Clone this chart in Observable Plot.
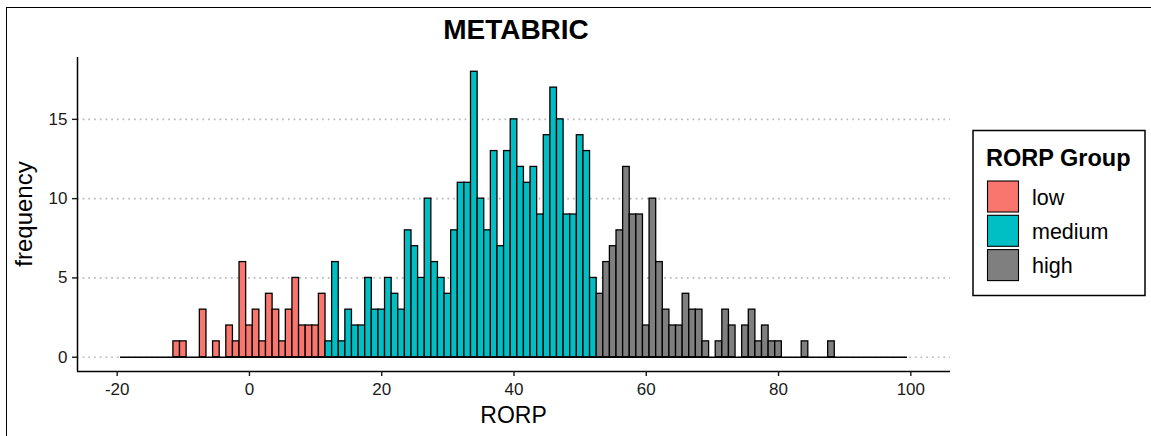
<!DOCTYPE html>
<html><head><meta charset="utf-8">
<script src="https://cdn.jsdelivr.net/npm/d3@7"></script>
<script src="https://cdn.jsdelivr.net/npm/@observablehq/plot@0.6"></script>
<style>
body{margin:0;background:#fff;}
#wrap{position:relative;width:1151px;height:436px;overflow:hidden;background:#fff;}
#border{position:absolute;left:6px;top:7px;width:1160px;height:440px;border-left:1.5px solid #000;border-top:1.5px solid #000;pointer-events:none;}
</style></head><body>
<div id="wrap"><div id="chart"></div><div id="border"></div></div>
<script>
const title = "METABRIC";
const xLabel = "RORP";
const yLabel = "frequency";
const legendTitle = "RORP Group";
const groups = ["low", "medium", "high"];
const groupColors = ["#F8766D", "#00BFC4", "#7F7F7F"];
const xTicks = [-20, 0, 20, 40, 60, 80, 100];
const yTicks = [0, 5, 10, 15];
const binWidth = 1;

// bins of width 1, centred on integers
const lowFirstBin = -19;
const lowCounts = [0,0,0,0,0,0,0,0,1,1,0,0,3,0,1,0,2,1,6,2,3,1,4,3,1,3,5,2,2,2,4];
const mediumFirstBin = 12;
const mediumCounts = [1,6,1,3,2,2,5,3,3,5,4,3,8,7,5,10,6,5,4,8,11,11,18,10,8,13,7,13,15,12,11,12,9,14,17,15,9,9,14,13,5];
const highFirstBin = 53;
const highCounts = [4,6,7,8,12,9,9,2,10,6,3,2,2,4,3,3,1,0,1,3,2,0,2,3,1,2,1,1,0,0,0,1,0,0,0,1,0,0,0,0,0,0,0,0,0,0,0];

const bins = [];
[[lowFirstBin, lowCounts, "low"], [mediumFirstBin, mediumCounts, "medium"], [highFirstBin, highCounts, "high"]]
  .forEach(([start, counts, g]) => counts.forEach((c, i) => bins.push({center: start + i * binWidth, count: c, group: g})));

const xExtent = [d3.min(bins, d => d.center) - binWidth / 2, d3.max(bins, d => d.center) + binWidth / 2];
const xSpan = xTicks[xTicks.length - 1] - xTicks[0];
const xDomain = [xTicks[0] - 0.05 * xSpan, xTicks[xTicks.length - 1] + 0.05 * xSpan];
const yMax = d3.max(bins, d => d.count);
const yDomain = [-0.05 * yMax, yMax * 1.05];

const font = "'Liberation Sans', Arial, Helvetica, sans-serif";

const svgEl = Plot.plot({
  width: 1151, height: 436,
  marginLeft: 77, marginRight: 201, marginTop: 57, marginBottom: 65,
  x: {domain: xDomain},
  y: {domain: yDomain},
  color: {domain: groups, range: groupColors},
  style: {fontFamily: font, fontSize: "17px", color: "#1a1a1a", background: "white"},
  marks: [
    Plot.ruleY(yTicks, {stroke: "#b8b8b8", strokeWidth: 1.7, strokeDasharray: "1.7,4"}),
    Plot.ruleY([0], {x1: xExtent[0], x2: xExtent[1], stroke: "black", strokeWidth: 1.4}),
    Plot.rectY(bins.filter(d => d.count > 0), {
      x1: d => d.center - binWidth / 2, x2: d => d.center + binWidth / 2,
      y: "count", fill: "group", stroke: "black", strokeWidth: 1.3
    }),
    Plot.ruleX([xDomain[0]], {stroke: "black", strokeWidth: 1.5}),
    Plot.ruleY([yDomain[0]], {stroke: "black", strokeWidth: 1.5}),
    Plot.axisX({ticks: xTicks, tickSize: 5, tickPadding: 6, label: null, strokeWidth: 1.4,
      fontSize: 17, tickFormat: d => String(d)}),
    Plot.axisY({ticks: yTicks, tickSize: 5, tickPadding: 5, label: null, strokeWidth: 1.4,
      fontSize: 17, tickFormat: d => String(d)})
  ]
});
document.getElementById("chart").appendChild(svgEl);

const svg = d3.select(svgEl);
svg.append("text").text(title)
  .attr("x", 516).attr("y", 38.5).attr("text-anchor", "middle")
  .attr("font-family", font).attr("font-size", 28).attr("font-weight", "bold").attr("fill", "#000");
svg.append("text").text(xLabel)
  .attr("x", 513.5).attr("y", 423).attr("text-anchor", "middle")
  .attr("font-family", font).attr("font-size", 23).attr("fill", "#000");
svg.append("text").text(yLabel)
  .attr("transform", "translate(31.5,214) rotate(-90)").attr("text-anchor", "middle")
  .attr("font-family", font).attr("font-size", 24).attr("fill", "#000");

// legend
const lg = svg.append("g").attr("font-family", font).attr("text-anchor", "start");
lg.append("rect").attr("x", 973).attr("y", 130.5).attr("width", 172).attr("height", 165)
  .attr("fill", "white").attr("stroke", "black").attr("stroke-width", 1.5);
lg.append("text").text(legendTitle).attr("x", 986).attr("y", 166).attr("text-anchor", "start")
  .attr("font-size", 23.5).attr("font-weight", "bold").attr("fill", "#000");
groups.forEach((g, i) => {
  const y0 = 181 + i * 34.3;
  lg.append("rect").attr("x", 987.5).attr("y", y0).attr("width", 31).attr("height", 31)
    .attr("fill", groupColors[i]).attr("stroke", "black").attr("stroke-width", 1.1);
  lg.append("text").text(g).attr("x", 1032).attr("y", y0 + 16).attr("dy", "0.35em").attr("text-anchor", "start")
    .attr("font-size", 21.5).attr("fill", "#000");
});
</script>
</body></html>
